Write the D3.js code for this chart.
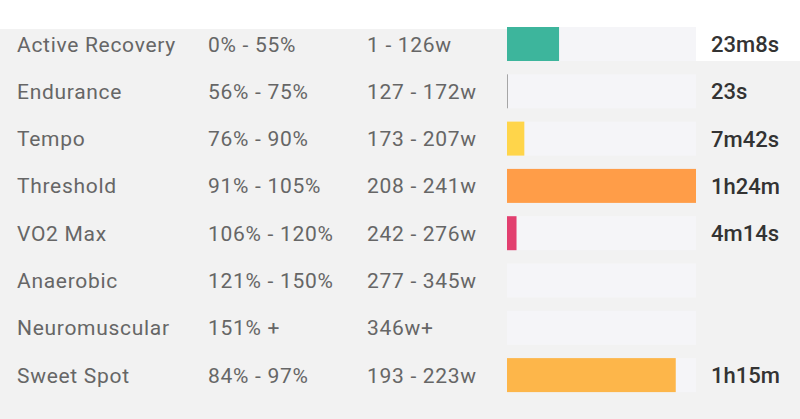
<!DOCTYPE html>
<html lang="en">
<head>
    <meta charset="UTF-8">
    <title>Power Zones</title>
    <style>
        body {
            margin: 0;
            background-color: #fff;
            font-family: Roboto, sans-serif;
        }
        .zone, .pct, .watts {
            fill: #666;
            font-size: 21px;
            letter-spacing: 0.7px;
        }
        .time {
            fill: #333;
            font-size: 22px;
            font-weight: 500;
        }
    </style>
</head>
<body>
    <svg id="chart" width="800" height="419"></svg>

    <script src="https://d3js.org/d3.v7.min.js"></script>
    <script>
        const zones = ["Active Recovery", "Endurance", "Tempo", "Threshold", "VO2 Max", "Anaerobic", "Neuromuscular", "Sweet Spot"];
        const pctRanges = ["0% - 55%", "56% - 75%", "76% - 90%", "91% - 105%", "106% - 120%", "121% - 150%", "151% +", "84% - 97%"];
        const wattRanges = ["1 - 126w", "127 - 172w", "173 - 207w", "208 - 241w", "242 - 276w", "277 - 345w", "346w+", "193 - 223w"];
        const seconds = [1388, 23, 462, 5040, 254, 0, 0, 4500];
        const timeLabels = ["23m8s", "23s", "7m42s", "1h24m", "4m14s", "", "", "1h15m"];
        const colors = ["#3db59c", "#9a9a9a", "#ffd54a", "#ff9d48", "#e23f6f", "#ccc", "#ccc", "#fdb64a"];

        const width = 800, height = 419;
        const step = 47.3, barH = 34;
        const svg = d3.select("#chart");

        // page background: white strip on top, grey panel below
        svg.append("rect").attr("width", width).attr("height", height).attr("fill", "#fff");
        svg.append("rect").attr("y", 29).attr("width", width).attr("height", height - 29).attr("fill", "#f2f2f2");
        svg.append("rect").attr("x", 696).attr("y", 29).attr("width", width - 696).attr("height", 32).attr("fill", "#fff");

        const y = d3.scaleBand()
            .domain(zones)
            .range([27, 27 + step * zones.length - (step - barH)])
            .paddingInner((step - barH) / step)
            .paddingOuter(0);

        const x = d3.scaleLinear()
            .domain([0, d3.max(seconds)])
            .range([507, 696]);

        const row = svg.selectAll(".row")
            .data(zones)
            .enter().append("g")
            .attr("class", "row")
            .attr("transform", d => `translate(0,${y(d)})`);

        const mid = y.bandwidth() / 2;

        row.append("text")
            .attr("class", "zone")
            .attr("x", 17)
            .attr("y", mid)
            .attr("dy", "0.36em")
            .text(d => d);

        row.append("text")
            .attr("class", "pct")
            .attr("x", 208)
            .attr("y", mid)
            .attr("dy", "0.36em")
            .text((d, i) => pctRanges[i]);

        row.append("text")
            .attr("class", "watts")
            .attr("x", 367)
            .attr("y", mid)
            .attr("dy", "0.36em")
            .text((d, i) => wattRanges[i]);

        // track
        row.append("rect")
            .attr("x", x(0))
            .attr("width", x.range()[1] - x(0))
            .attr("height", y.bandwidth())
            .attr("fill", "#f5f5f8");

        // value bar
        row.append("rect")
            .attr("x", x(0))
            .attr("width", (d, i) => x(seconds[i]) - x(0))
            .attr("height", y.bandwidth())
            .attr("fill", (d, i) => colors[i]);

        row.append("text")
            .attr("class", "time")
            .attr("x", 711)
            .attr("y", mid)
            .attr("dy", "0.36em")
            .text((d, i) => timeLabels[i]);
    </script>
</body>
</html>
